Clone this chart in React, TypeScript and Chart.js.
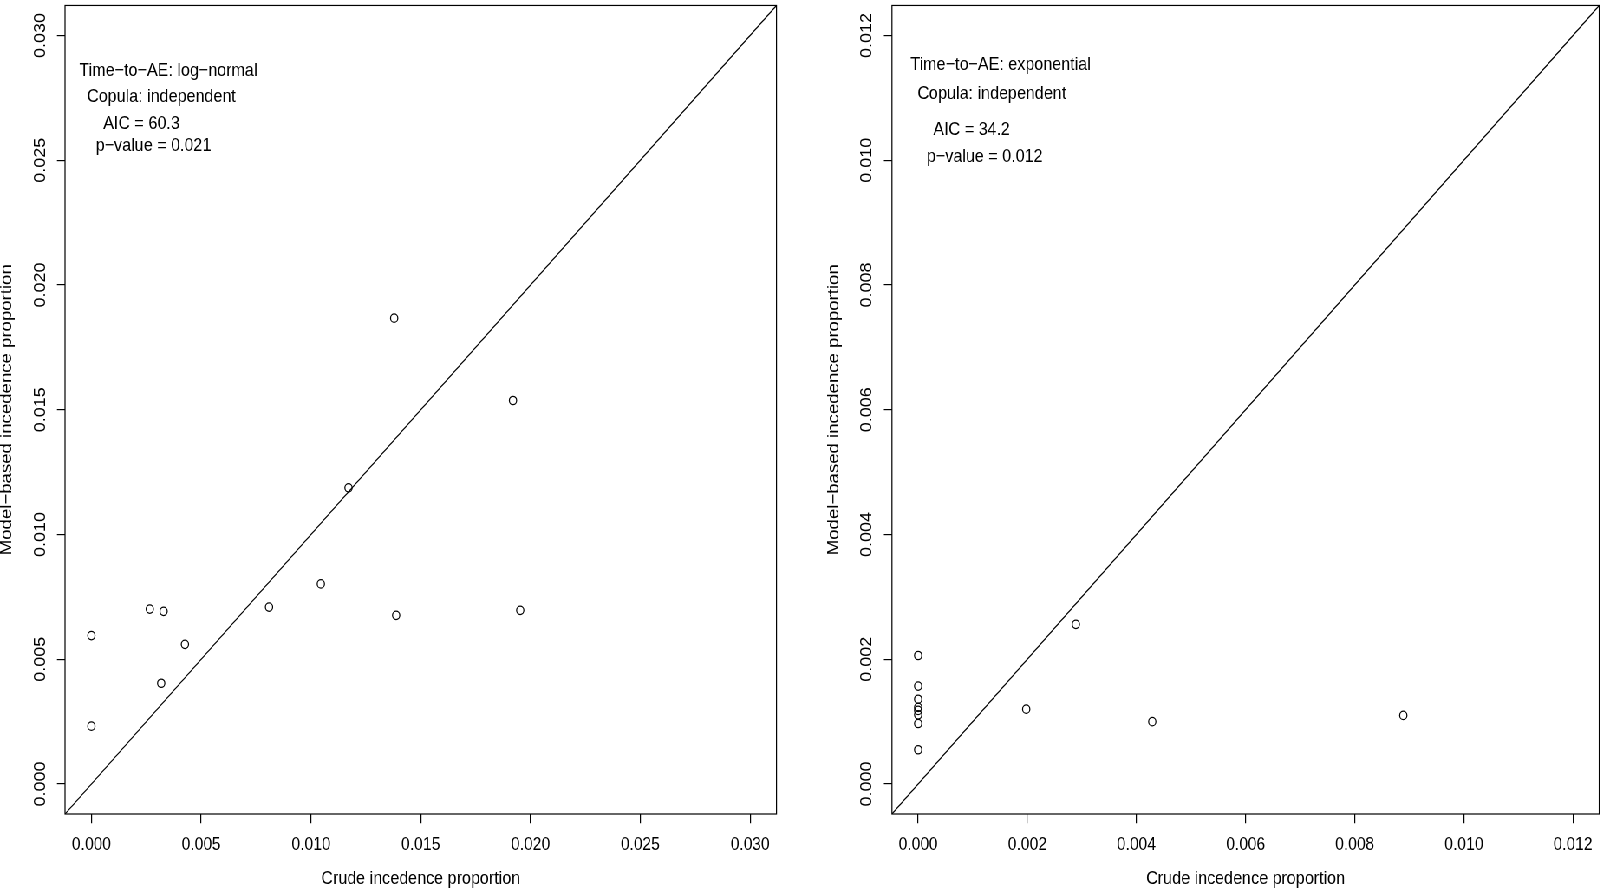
import React, { useEffect, useRef } from 'react';
import Chart from 'chart.js/auto';

// the reference is a bit narrower than it is tall, so the whole figure is squeezed
const SQUEEZE = 0.867;
const FONT = '"Liberation Sans", Arial, Helvetica, sans-serif';

const xTitle = 'Crude incedence proportion';
const yTitle = 'Model\u2212based incedence proportion';

// left panel: log-normal time-to-AE
const lnCrude = [0, 0, 0.00266, 0.00318, 0.00329, 0.00426, 0.00809, 0.01045, 0.01171, 0.01379, 0.01388, 0.0192, 0.01953];
const lnModel = [0.00595, 0.00232, 0.00701, 0.00404, 0.00692, 0.0056, 0.00709, 0.00802, 0.01187, 0.01867, 0.00676, 0.01537, 0.00696];
const lnTicks = [0, 0.005, 0.01, 0.015, 0.02, 0.025, 0.03];
const lnNotes = ['Time\u2212to\u2212AE: log\u2212normal', 'Copula: independent', 'AIC = 60.3', 'p\u2212value = 0.021'];
const lnNoteX = [0.00351, 0.00319, 0.00228, 0.00283];
const lnNoteY = [0.02857, 0.02755, 0.02647, 0.02556];

// right panel: exponential time-to-AE
const expCrude = [0, 0, 0, 0, 0, 0, 0, 0, 0.00198, 0.00289, 0.00429, 0.00889];
const expModel = [0.00206, 0.00157, 0.00136, 0.00123, 0.00118, 0.00111, 0.00097, 0.00055, 0.0012, 0.00256, 0.001, 0.0011];
const expTicks = [0, 0.002, 0.004, 0.006, 0.008, 0.01, 0.012];
const expNotes = ['Time\u2212to\u2212AE: exponential', 'Copula: independent', 'AIC = 34.2', 'p\u2212value = 0.012'];
const expNoteX = [0.00151, 0.00135, 0.00098, 0.00122];
const expNoteY = [0.01153, 0.01106, 0.01048, 0.01006];

interface PanelProps {
  crude: number[];
  model: number[];
  ticks: number[];
  notes: string[];
  noteX: number[];
  noteY: number[];
  padLeft: number;
  padRight: number;
  axisWidth: number;
  labelPad: number;
}

const PANEL_W = 802 / SQUEEZE;

const Panel: React.FC<PanelProps> = ({ crude, model, ticks, notes, noteX, noteY, padLeft, padRight, axisWidth, labelPad }) => {
  const canvasRef = useRef<HTMLCanvasElement>(null);

  useEffect(() => {
    const ctx = canvasRef.current?.getContext('2d');
    if (!ctx) return;

    // R extends the axis range by 4% on each side
    const span = ticks[ticks.length - 1] - ticks[0];
    const lo = ticks[0] - span * 0.04;
    const hi = ticks[ticks.length - 1] + span * 0.04;

    const setTicks = (scale: any) => {
      scale.ticks = ticks.map((v) => ({ value: v }));
    };
    const tickFont = { family: FONT, size: 18 };
    const textFont = { family: FONT, size: 18.6 };

    const frame = {
      id: 'frame',
      afterDraw(chart: any) {
        const { left, top, right, bottom } = chart.chartArea;
        const c = chart.ctx;
        c.save();
        c.strokeStyle = '#000';
        c.lineWidth = 1.2;
        c.strokeRect(left, top, right - left, bottom - top);
        c.font = `18.6px ${FONT}`;
        c.fillStyle = '#000';
        c.textAlign = 'center';
        c.textBaseline = 'middle';
        notes.forEach((t, i) => {
          c.fillText(t, chart.scales.x.getPixelForValue(noteX[i]), chart.scales.y.getPixelForValue(noteY[i]));
        });
        c.restore();
      },
    };

    const chart = new Chart(ctx, {
      type: 'scatter',
      data: {
        datasets: [
          {
            data: [{ x: lo, y: lo }, { x: hi, y: hi }],
            showLine: true,
            borderColor: '#000',
            borderWidth: 1.2,
            pointRadius: 0,
          },
          {
            data: crude.map((x, i) => ({ x, y: model[i] })),
            pointRadius: 4.2,
            borderWidth: 1.25,
            borderColor: '#000',
            backgroundColor: 'rgba(0,0,0,0)',
          },
        ],
      },
      options: {
        animation: false,
        responsive: true,
        maintainAspectRatio: false,
        layout: { padding: { left: padLeft, right: padRight, top: 1, bottom: 0 } },
        plugins: { legend: { display: false }, tooltip: { enabled: false } },
        scales: {
          x: {
            type: 'linear',
            min: lo,
            max: hi,
            afterBuildTicks: setTicks,
            afterFit: (s: any) => {
              s.height = 76;
              s.paddingLeft = 0;
              s.paddingRight = 0;
            },
            border: { display: false },
            grid: { drawOnChartArea: false, drawTicks: true, tickLength: 9.3, color: '#000', lineWidth: 1.2 },
            ticks: {
              font: tickFont,
              color: '#000',
              padding: 11,
              maxRotation: 0,
              autoSkip: false,
              callback: (v: any) => Number(v).toFixed(3),
            },
            title: { display: true, text: xTitle, font: textFont, color: '#000', padding: 0 },
          },
          y: {
            type: 'linear',
            min: lo,
            max: hi,
            afterBuildTicks: setTicks,
            afterFit: (s: any) => {
              s.width = axisWidth;
              s.paddingTop = 0;
              s.paddingBottom = 0;
            },
            border: { display: false },
            grid: { drawOnChartArea: false, drawTicks: true, tickLength: 9.3, color: '#000', lineWidth: 1.2 },
            ticks: {
              font: tickFont,
              color: '#000',
              padding: labelPad,
              minRotation: 90,
              maxRotation: 90,
              crossAlign: 'center',
              autoSkip: false,
              callback: (v: any) => Number(v).toFixed(3),
            },
            title: {
              display: true,
              text: yTitle,
              font: { family: FONT, size: 18.6, lineHeight: 0.8 },
              color: '#000',
              padding: 0,
            },
          },
        },
      },
      plugins: [frame],
    });

    return () => {
      chart.destroy();
    };
  }, [crude, model, ticks, notes, noteX, noteY, padLeft, padRight, axisWidth, labelPad]);

  return (
    <div style={{ position: 'relative', width: PANEL_W, height: 890 }}>
      <canvas ref={canvasRef} />
    </div>
  );
};

export default function App() {
  return (
    <div
      style={{
        position: 'absolute',
        left: 0,
        top: 0,
        width: 1604 / SQUEEZE,
        height: 890,
        display: 'flex',
        background: '#fff',
        transform: `scaleX(${SQUEEZE})`,
        transformOrigin: '0 0',
      }}
    >
      <Panel
        crude={lnCrude}
        model={lnModel}
        ticks={lnTicks}
        notes={lnNotes}
        noteX={lnNoteX}
        noteY={lnNoteY}
        padLeft={0}
        padRight={29.4}
        axisWidth={75}
        labelPad={-4.1}
      />
      <Panel
        crude={expCrude}
        model={expModel}
        ticks={expTicks}
        notes={expNotes}
        noteX={expNoteX}
        noteY={expNoteY}
        padLeft={29.7}
        padRight={2.3}
        axisWidth={74.1}
        labelPad={-3}
      />
    </div>
  );
}
